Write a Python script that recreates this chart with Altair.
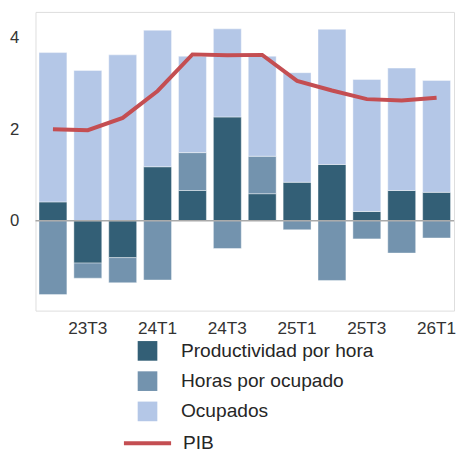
import altair as alt
import pandas as pd

periods = ["23T2", "23T3", "23T4", "24T1", "24T2", "24T3",
           "24T4", "25T1", "25T2", "25T3", "25T4", "26T1"]
productividad = [0.41, -0.93, -0.81, 1.18, 0.66, 2.27, 0.59, 0.84, 1.23, 0.20, 0.66, 0.62]
horas = [-1.62, -0.33, -0.55, -1.30, 0.83, -0.61, 0.82, -0.20, -1.31, -0.40, -0.71, -0.38]
ocupados = [3.27, 3.29, 3.63, 2.99, 2.11, 1.93, 2.19, 2.40, 2.96, 2.89, 2.68, 2.45]
pib = [2.00, 1.98, 2.25, 2.84, 3.64, 3.62, 3.63, 3.06, 2.85, 2.66, 2.63, 2.69]

series_names = ["Productividad por hora", "Horas por ocupado", "Ocupados"]
series_colors = ["#335f76", "#7393ae", "#b4c7e7"]
tick_labels = ["23T3", "24T1", "24T3", "25T1", "25T3", "26T1"]

rows = []
for i, p in enumerate(periods):
    for k, (name, vals) in enumerate(zip(series_names, [productividad, horas, ocupados])):
        rows.append({"periodo": p, "serie": name, "valor": vals[i], "orden": k})
bars_df = pd.DataFrame(rows)
line_df = pd.DataFrame({"periodo": periods, "pib": pib, "serie": ["PIB"] * len(periods)})

x_enc = alt.X("periodo:N", sort=periods,
              scale=alt.Scale(paddingInner=0.2, paddingOuter=0.1),
              axis=alt.Axis(title=None, values=tick_labels, labelAngle=0, ticks=False,
                            domain=False, grid=False, labelPadding=9,
                            labelFontSize=17.5, labelColor="#333333", labelFont="Liberation Sans"))
y_scale = alt.Scale(domain=[-1.97, 4.57], nice=False, zero=False)

bars = alt.Chart(bars_df).mark_bar(stroke="white", strokeWidth=0.6, strokeOpacity=0.7).encode(
    x=x_enc,
    y=alt.Y("valor:Q", stack="zero", scale=y_scale,
            axis=alt.Axis(title=None, values=[0, 2, 4], ticks=False, domain=False, grid=False,
                          labelPadding=17, minExtent=28, maxExtent=28,
                          labelFontSize=17, labelColor="#333333", labelFont="Liberation Sans")),
    color=alt.Color("serie:N", sort=series_names,
                    scale=alt.Scale(domain=series_names, range=series_colors),
                    legend=alt.Legend(title=None, orient="none", legendX=104, legendY=335,
                                      symbolType="square", symbolSize=400, symbolStrokeWidth=0,
                                      labelFontSize=19.5, labelColor="#262626", labelFont="Liberation Sans",
                                      labelOffset=24, rowPadding=10.8, labelLimit=400, padding=0)),
    order=alt.Order("orden:Q"),
)

zero = alt.Chart(pd.DataFrame({"y": [0]})).mark_rule(color="#aaaaaa", strokeWidth=1.5).encode(
    y=alt.Y("y:Q", scale=y_scale)
)

line = alt.Chart(line_df).mark_line(strokeWidth=4).encode(
    x=alt.X("periodo:N", sort=periods),
    y=alt.Y("pib:Q", scale=y_scale),
    stroke=alt.Stroke("serie:N", scale=alt.Scale(domain=["PIB"], range=["#c44e52"]),
                      legend=alt.Legend(title=None, orient="none", legendX=88, legendY=413,
                                        symbolType="stroke", symbolSize=2304, symbolStrokeWidth=4,
                                        labelFontSize=19.5, labelColor="#262626", labelFont="Liberation Sans",
                                        labelOffset=10, labelLimit=400, padding=0)),
)

chart = alt.layer(bars, zero, line).resolve_scale(color="independent").properties(
    width=426, height=304,
    padding={"left": 0, "top": 0, "right": 0, "bottom": 0},
).configure_view(stroke="#bbbbbb", strokeWidth=1.5).configure(background="white")

chart.save("out.html", embed_options={"renderer": "svg", "actions": False})
